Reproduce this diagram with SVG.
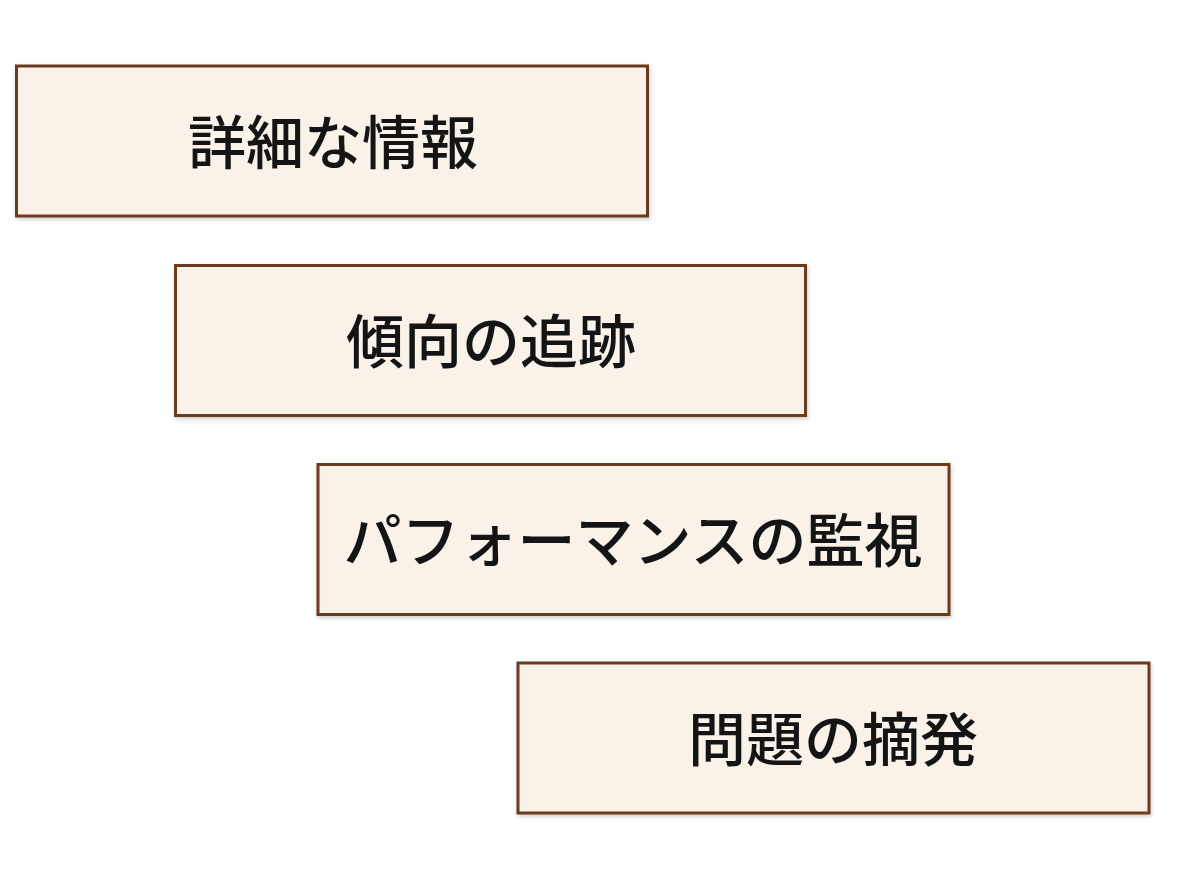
<svg xmlns="http://www.w3.org/2000/svg" width="1193" height="896" viewBox="0 0 1193 896">
<defs>
<filter id="sh" x="-5%" y="-10%" width="110%" height="125%">
<feDropShadow dx="1" dy="2" stdDeviation="2" flood-color="#000" flood-opacity="0.2"/>
</filter>
<style>
.box{fill:#faf1e9;stroke:#6b3a1e;stroke-width:3;filter:url(#sh)}
.lbl{font-family:"Noto Sans CJK JP","Noto Sans",sans-serif;font-size:58px;font-weight:500;fill:#141414;text-anchor:middle;dominant-baseline:central}
</style>
</defs>
<rect width="1193" height="896" fill="#ffffff"/>
<g id="node1"><rect class="box" x="16.5" y="66" width="631" height="150"/><text class="lbl" x="333" y="139">詳細な情報</text></g>
<g id="node2"><rect class="box" x="175.5" y="265.5" width="630" height="150"/><text class="lbl" x="491" y="338">傾向の追跡</text></g>
<g id="node3"><rect class="box" x="318" y="464.5" width="631" height="150"/><text class="lbl" x="633" y="537">パフォーマンスの監視</text></g>
<g id="node4"><rect class="box" x="518" y="663" width="631" height="150"/><text class="lbl" x="833" y="736">問題の摘発</text></g>
<g id="connectors"></g>
</svg>
